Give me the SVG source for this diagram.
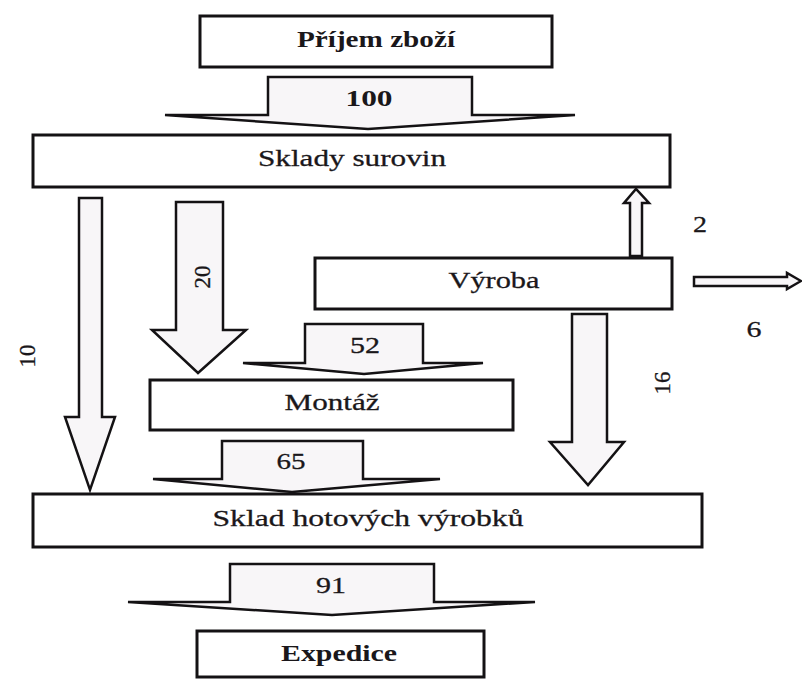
<svg xmlns="http://www.w3.org/2000/svg" width="802" height="679" viewBox="0 0 802 679">
  <style>
    .box { fill: #ffffff; stroke: #141214; stroke-width: 3; }
    .flow { fill: #f8f6f8; stroke: #141214; stroke-width: 2.5; stroke-linejoin: miter; }
    .lbl { font-family: "Liberation Serif", "Times New Roman", serif; font-size: 24px; fill: #1a171a; text-anchor: middle; stroke: #1a171a; stroke-width: 0.3; }
    .b { font-weight: bold; stroke-width: 0; }
    .rot { font-size: 23px; }
  </style>
  <rect width="802" height="679" fill="#ffffff"/>

  <!-- material flows between departments -->
  <g id="connectors">
    <g id="flow-100">
      <polygon class="flow" points="268,77 472,77 472,115 575,115 368,129 165,115 268,115"/>
      <text class="lbl b" x="369" y="106" textLength="47" lengthAdjust="spacingAndGlyphs">100</text>
    </g>
    <g id="flow-10">
      <polygon class="flow" points="79,198 102,198 102,417 115,417 90,490 65,417 79,417"/>
      <text class="lbl rot" transform="translate(35,356) rotate(-90)">10</text>
    </g>
    <g id="flow-20">
      <polygon class="flow" points="176,202 223,202 223,330 246,330 198,373 152,330 176,330"/>
      <text class="lbl rot" transform="translate(210,277) rotate(-90)">20</text>
    </g>
    <g id="flow-2">
      <polygon class="flow" points="630,256 630,203 624,203 636,189 649,203 642,203 642,256"/>
      <text class="lbl" x="700" y="232" textLength="14" lengthAdjust="spacingAndGlyphs">2</text>
    </g>
    <g id="flow-6">
      <polygon class="flow" points="694,277 787,277 787,273 801,281 787,289 787,286 694,286"/>
      <text class="lbl" x="754" y="337" textLength="15" lengthAdjust="spacingAndGlyphs">6</text>
    </g>
    <g id="flow-52">
      <polygon class="flow" points="305,324 423,324 423,363 483,363 364,374 243,363 305,363"/>
      <text class="lbl" x="365" y="353" textLength="30" lengthAdjust="spacingAndGlyphs">52</text>
    </g>
    <g id="flow-16">
      <polygon class="flow" points="572,314 607,314 607,442 624,442 588,485 550,442 572,442"/>
      <text class="lbl rot" transform="translate(670,383) rotate(-90)">16</text>
    </g>
    <g id="flow-65">
      <polygon class="flow" points="222,441 363,441 363,479 440,479 292,492 153,479 222,479"/>
      <text class="lbl" x="291" y="469" textLength="29" lengthAdjust="spacingAndGlyphs">65</text>
    </g>
    <g id="flow-91">
      <polygon class="flow" points="230,564 434,564 434,602 535,602 332,615 128,602 230,602"/>
      <text class="lbl" x="331" y="593" textLength="30" lengthAdjust="spacingAndGlyphs">91</text>
    </g>
  </g>

  <!-- departments -->
  <g id="prijem-zbozi">
    <rect class="box" x="200" y="16" width="352" height="51"/>
    <text class="lbl b" x="376" y="47" textLength="158" lengthAdjust="spacingAndGlyphs">Příjem zboží</text>
  </g>
  <g id="sklady-surovin">
    <rect class="box" x="33" y="135" width="637" height="52"/>
    <text class="lbl" x="352" y="166" textLength="188" lengthAdjust="spacingAndGlyphs">Sklady surovin</text>
  </g>
  <g id="vyroba">
    <rect class="box" x="315" y="258" width="357" height="51"/>
    <text class="lbl" x="494" y="288" textLength="91" lengthAdjust="spacingAndGlyphs">Výroba</text>
  </g>
  <g id="montaz">
    <rect class="box" x="150" y="380" width="363" height="50"/>
    <text class="lbl" x="332" y="410" textLength="95" lengthAdjust="spacingAndGlyphs">Montáž</text>
  </g>
  <g id="sklad-hotovych-vyrobku">
    <rect class="box" x="33" y="494" width="669" height="53"/>
    <text class="lbl" x="368" y="526" textLength="311" lengthAdjust="spacingAndGlyphs">Sklad hotových výrobků</text>
  </g>
  <g id="expedice">
    <rect class="box" x="197" y="631" width="287" height="46"/>
    <text class="lbl b" x="339" y="661" textLength="116" lengthAdjust="spacingAndGlyphs">Expedice</text>
  </g>
</svg>
